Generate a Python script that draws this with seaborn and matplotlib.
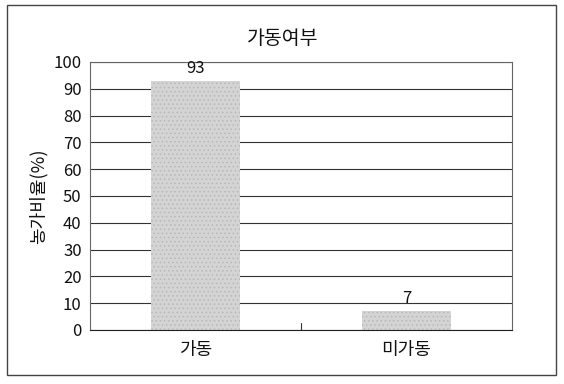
import matplotlib
matplotlib.use("Agg")
import matplotlib.pyplot as plt
import seaborn as sns
import pandas as pd
from matplotlib.patches import Rectangle

categories = ["가동", "미가동"]
values = [93, 7]
title = "가동여부"
ylabel = "농가비율(%)"

sns.set_theme(style="white")
plt.rcParams["font.family"] = ["Noto Sans CJK KR", "DejaVu Sans"]
plt.rcParams["hatch.color"] = "#9a9a9a"
plt.rcParams["hatch.linewidth"] = 0.6

df = pd.DataFrame({"cat": categories, "val": values})

fig = plt.figure(figsize=(5.64, 3.84), dpi=100)
ax = fig.add_axes([90 / 564, 1 - 330 / 384, 422 / 564, 268 / 384])

sns.barplot(data=df, x="cat", y="val", ax=ax, color="#d4d4d4",
            width=0.42, saturation=1, edgecolor="none")
for p in ax.patches:
    p.set_hatch("....")
    p.set_edgecolor("#b8b8b8")
    p.set_linewidth(0)

ax.set_xlim(-0.5, 1.5)
ax.set_ylim(0, 100)
ax.set_yticks(range(0, 101, 10))
ax.yaxis.grid(True, color="#333333", linewidth=0.8)
ax.set_axisbelow(True)
for s in ax.spines.values():
    s.set_color("#666666")
    s.set_linewidth(0.8)
ax.spines["bottom"].set_color("#222222")

ax.tick_params(axis="both", length=0, labelsize=12, colors="#111111", pad=6)
ax.tick_params(axis="x", pad=8, labelsize=13)
ax.set_xlabel("")
ax.set_ylabel(ylabel, fontsize=13, color="#111111", labelpad=4)

# small divider tick between categories on the x axis
ax.plot([0.5, 0.5], [0, 2.5], color="#333333", linewidth=0.8)

for i, v in enumerate(values):
    ax.text(i, v + 1.5, str(v), ha="center", va="bottom", fontsize=12, color="#111111")

fig.text(283 / 564, 1 - 38 / 384, title, ha="center", va="center", fontsize=14, color="#111111")

fig.patches.append(Rectangle((7 / 564, 1 - 375 / 384), 549 / 564, 370 / 384,
                             transform=fig.transFigure, fill=False,
                             edgecolor="#444444", linewidth=1))

fig.savefig("out.png", dpi=100)
